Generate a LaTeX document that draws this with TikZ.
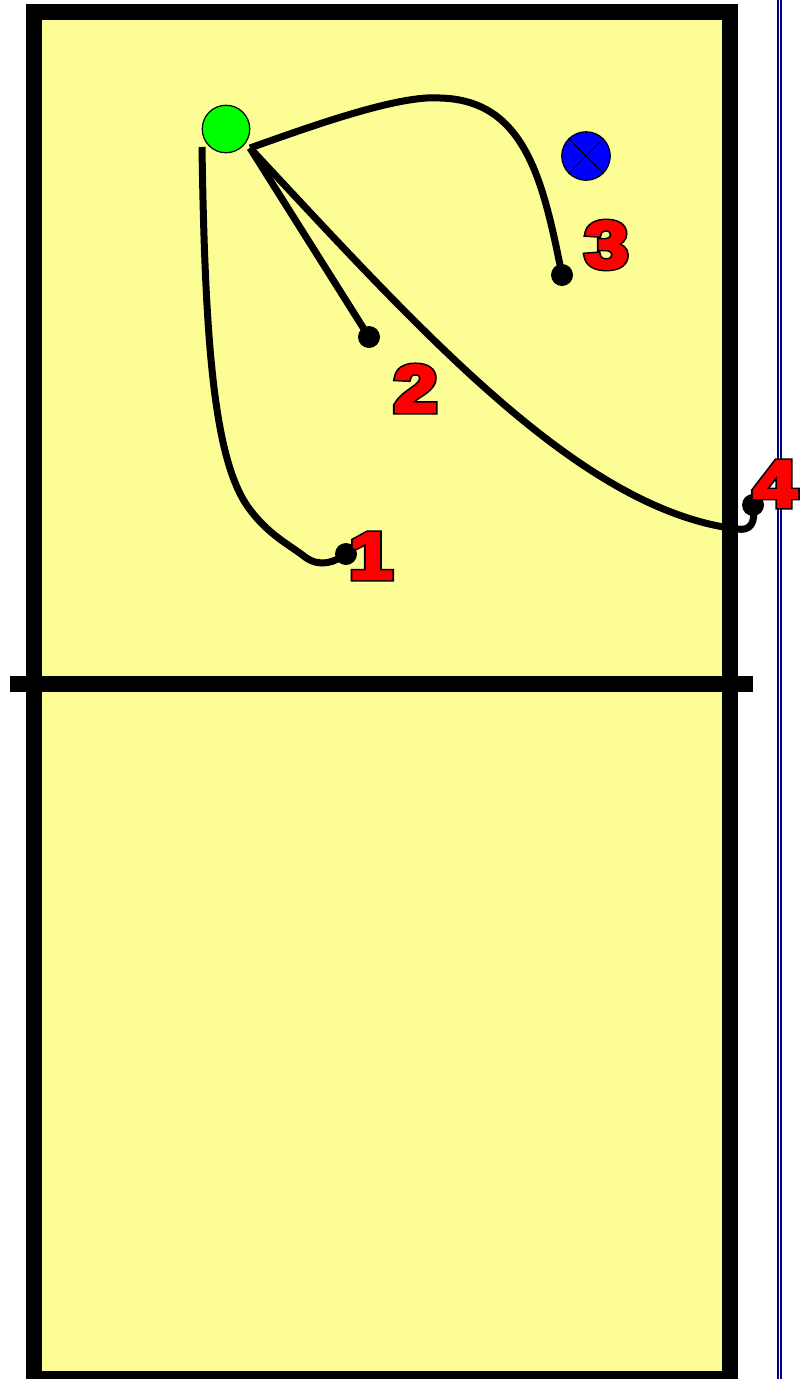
\documentclass[tikz,border=0pt]{standalone}
\usepackage{fontspec}
\usepackage{graphicx}
\newfontfamily\numfont{Liberation Sans}
\definecolor{courtyellow}{RGB}{253,253,150}
\definecolor{netblue}{RGB}{0,0,128}
\definecolor{playergreen}{RGB}{0,255,0}
\definecolor{playerblue}{RGB}{0,0,255}
\newcommand\outlinedigit[1]{\scalebox{1.18}[1]{\numfont\bfseries\fontsize{66}{66}\selectfont\color{red}\rlap{\special{pdf:literal direct 0 0 0 RG 6 w 0 j 2 M 2 Tr}#1}\special{pdf:literal direct 1 0 0 RG 3 w 0 j 2 M 2 Tr}#1\special{pdf:literal direct 0 Tr}}}
\begin{document}
\begin{tikzpicture}[x=1pt,y=-1pt,
  route/.style={line width=7pt, draw=black},
  enddot/.style={circle, fill=black, minimum size=22pt, inner sep=0pt},
  numlabel/.style={inner sep=0pt, anchor=center},
  player/.style={circle, draw=black, line width=1.2pt, minimum size=47.5pt, inner sep=0pt}]
\useasboundingbox (0,0) rectangle (806,1379);
\fill[white] (0,0) rectangle (806,1379);
% court
\fill[courtyellow] (34,12) rectangle (729.5,1390);
\draw[line width=16pt] (34,12) rectangle (729.5,1379);
% net
\draw[line width=16pt] (10,683.5) -- (753,683.5);
% page edge double line
\draw[netblue, line width=2pt] (778,0) -- (778,1379);
\draw[netblue, line width=1.6pt] (781,0) -- (781,1379);
% players
\node[player, fill=playergreen] (g) at (226,129) {};
\node[player, fill=playerblue, minimum size=48.5pt] (b) at (586,156) {};
\draw[line width=1pt] (b.north west) -- (b.south east);
\draw[line width=1pt] (b.north east) -- (b.south west);
% end dots
\node[enddot] (d1) at (346,554) {};
\node[enddot] (d2) at (369,337) {};
\node[enddot] (d3) at (562,275) {};
\node[enddot] (d4) at (753,505) {};
% route start points
\coordinate (s1) at (202,147);
\coordinate (s) at (250,148);
\coordinate (a1) at (248,507);
\coordinate (a2) at (305,557);
\coordinate (c1) at (440,98);
\coordinate (e4) at (737,529);
% routes
\draw[route] (s1) .. controls (205,350) and (215,460) .. (a1)
  .. controls (268,535) and (290,545) .. (a2)
  .. controls (320,568) and (335,562) .. (d1.center);
\draw[route] (s) -- (d2.center);
\draw[route] (s) .. controls (320,123) and (400,95) .. (c1)
  .. controls (525,100) and (543,180) .. (d3.center);
\draw[route] (s) .. controls (420,330) and (580,510) .. (e4)
  .. controls (750,531) and (756,524) .. (d4.center);
% labels
\node[numlabel] (l1) at (371,556) {\outlinedigit{1}};
\node[numlabel] (l2) at (415.5,388.5) {\outlinedigit{2}};
\node[numlabel] (l3) at (606.5,245) {\outlinedigit{3}};
\node[numlabel] (l4) at (775,484) {\outlinedigit{4}};
\end{tikzpicture}
\end{document}
